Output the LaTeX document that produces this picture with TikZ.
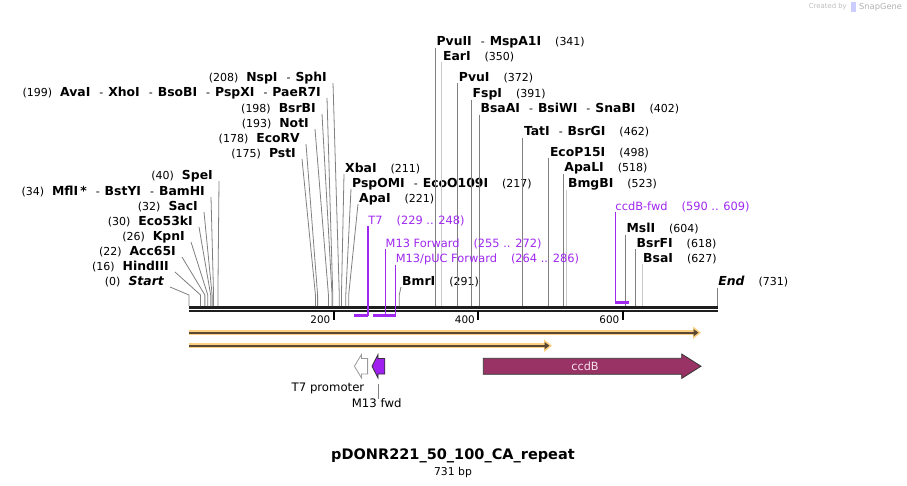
\documentclass[tikz,border=0pt]{standalone}
\usepackage{fontspec}
\setmainfont{DejaVu Sans}
\usetikzlibrary{arrows.meta,positioning}

\definecolor{cutgray}{RGB}{128,128,128}
\definecolor{cutpale}{RGB}{200,200,200}
\definecolor{primer}{RGB}{160,40,240}
\definecolor{halo}{RGB}{251,208,128}
\definecolor{repline}{RGB}{90,72,52}
\definecolor{ccdbfill}{RGB}{153,51,102}
\definecolor{ccdbtext}{RGB}{245,225,235}
\definecolor{m13fill}{RGB}{160,32,240}
\definecolor{backbone}{RGB}{30,30,30}

% bp -> x (one unit = one pixel)
\newcommand{\bp}[1]{189+0.7225*#1}
\newcommand{\enz}[1]{{\fontsize{12.4}{14}\selectfont\bfseries #1}}
\newcommand{\at}[1]{{\fontsize{11}{13}\selectfont(#1)}}
\newcommand{\andsep}{\hspace{9pt}-\hspace{5pt}}
\newcommand{\gap}{\hspace{14pt}}

\tikzset{
  lbl/.style={inner sep=0pt},
  leftlbl/.style={lbl, anchor=east},
  rightlbl/.style={lbl, anchor=west},
  cut/.style={draw=cutgray, line width=0.8pt},
  cutlight/.style={draw=cutpale, line width=0.8pt},
  primerlbl/.style={lbl, anchor=west, text=primer, font=\fontsize{11.4}{13}\selectfont},
  primerline/.style={draw=primer, line width=1.4pt},
  primerbar/.style={draw=primer, line width=2.2pt},
  rpthalo/.style={draw=halo, line width=5.5pt, -{Triangle[length=8pt,width=12pt]}},
  rptline/.style={draw=repline, line width=2pt, -{Triangle[length=5pt,width=7pt]}, shorten >=2.5pt},
  featlbl/.style={lbl, font=\fontsize{11.7}{13}\selectfont},
}

\begin{document}
\begin{tikzpicture}[x=1pt, y=-1pt, font=\fontsize{11}{13}\selectfont]
  \fill[white] (0,0) rectangle (907,485);
  \useasboundingbox (0,0) rectangle (907,485);

  % credit
  \node[lbl, anchor=east, text=black!25, font=\fontsize{6.9}{8}\selectfont] (credit) at (847,7) {Created by};
  \fill[blue!20] (851,2) rectangle (856,12);
  \node[lbl, anchor=west, text=black!30, font=\fontsize{8.3}{9}\selectfont] (snapgene) at (859,7) {SnapGene};

  % backbone
  \coordinate (bb-s) at (189,307.3);
  \coordinate (bb-e) at (717.5,307.3);
  \draw[backbone, line width=2.7pt] (bb-s) -- (bb-e);
  \draw[backbone, line width=2.2pt] ([yshift=-3.9pt]bb-s) -- ([yshift=-3.9pt]bb-e);
  \foreach \t in {200,400,600}{
    \coordinate (tick\t) at ({\bp{\t}},311);
    \draw[black, line width=2pt] (tick\t) -- ++(0,8.5);
    \node[lbl, anchor=east, font=\fontsize{10.4}{12}\selectfont] (num\t) at ({\bp{\t}-3},320) {\t};
  }

  % enzymes, left side
  \node[leftlbl] (Start)   at (164,282) {\at{0}\hspace{8pt}\enz{\itshape Start}};
  \node[leftlbl] (HindIII) at (169,267) {\at{16}\hspace{8pt}\enz{HindIII}};
  \node[leftlbl] (Acc65I)  at (176,252) {\at{22}\hspace{8pt}\enz{Acc65I}};
  \node[leftlbl] (KpnI)    at (185,237) {\at{26}\hspace{8pt}\enz{KpnI}};
  \node[leftlbl] (Eco53kI) at (193,222) {\at{30}\hspace{8pt}\enz{Eco53kI}};
  \node[leftlbl] (SacI)    at (198,207) {\at{32}\hspace{8pt}\enz{SacI}};
  \node[leftlbl] (MflI)    at (205,192) {\at{34}\hspace{8pt}\enz{MflI\,*}\andsep\enz{BstYI}\andsep\enz{BamHI}};
  \node[leftlbl] (SpeI)    at (213,176) {\at{40}\hspace{8pt}\enz{SpeI}};
  \node[leftlbl] (PstI)    at (296,154) {\at{175}\hspace{8pt}\enz{PstI}};
  \node[leftlbl] (EcoRV)   at (300,139) {\at{178}\hspace{8pt}\enz{EcoRV}};
  \node[leftlbl] (NotI)    at (309,124) {\at{193}\hspace{8pt}\enz{NotI}};
  \node[leftlbl] (BsrBI)   at (316,109) {\at{198}\hspace{8pt}\enz{BsrBI}};
  \node[leftlbl] (AvaI)    at (321,93)  {\at{199}\hspace{8pt}\enz{AvaI}\andsep\enz{XhoI}\andsep\enz{BsoBI}\andsep\enz{PspXI}\andsep\enz{PaeR7I}};
  \node[leftlbl] (NspI)    at (327,78)  {\at{208}\hspace{8pt}\enz{NspI}\andsep\enz{SphI}};
  \foreach \nm/\bpv in {Start/0,HindIII/16,Acc65I/22,KpnI/26,Eco53kI/30,SacI/32,MflI/34,SpeI/40,
                        PstI/175,EcoRV/178,NotI/193,BsrBI/198,AvaI/199,NspI/208}{
    \coordinate (\nm-k) at ({\bp{\bpv}},295);
    \coordinate (\nm-c) at ({\bp{\bpv}},306);
    \draw[cut] ([shift={(6,5)}]\nm.east) -- (\nm-k) -- (\nm-c);
  }

  % enzymes, middle
  \node[rightlbl] (XbaI)   at (345,169) {\enz{XbaI}\gap\at{211}};
  \node[rightlbl] (PspOMI) at (352,184) {\enz{PspOMI}\andsep\enz{EcoO109I}\gap\at{217}};
  \node[rightlbl] (ApaI)   at (359,199) {\enz{ApaI}\gap\at{221}};
  \node[rightlbl] (BmrI)   at (402,282) {\enz{BmrI}\gap\at{291}};
  \foreach \nm/\bpv in {XbaI/211,PspOMI/217,ApaI/221,BmrI/291}{
    \coordinate (\nm-k) at ({\bp{\bpv}},295);
    \coordinate (\nm-c) at ({\bp{\bpv}},306);
    \draw[cut] ([shift={(-1,5)}]\nm.west) -- (\nm-k) -- (\nm-c);
  }

  % enzymes, right side
  \node[rightlbl] (PvuII)   at ({\bp{341}+1},42)  {\enz{PvuII}\andsep\enz{MspA1I}\gap\at{341}};
  \node[rightlbl] (EarI)    at ({\bp{350}+1},57)  {\enz{EarI}\gap\at{350}};
  \node[rightlbl] (PvuI)    at ({\bp{372}+1},78)  {\enz{PvuI}\gap\at{372}};
  \node[rightlbl] (FspI)    at ({\bp{391}+1},94)  {\enz{FspI}\gap\at{391}};
  \node[rightlbl] (BsaAI)   at ({\bp{402}+1},109) {\enz{BsaAI}\andsep\enz{BsiWI}\andsep\enz{SnaBI}\gap\at{402}};
  \node[rightlbl] (TatI)    at ({\bp{462}+1},132) {\enz{TatI}\andsep\enz{BsrGI}\gap\at{462}};
  \node[rightlbl] (EcoP15I) at ({\bp{498}+1},153) {\enz{EcoP15I}\gap\at{498}};
  \node[rightlbl] (ApaLI)   at ({\bp{518}+1},168) {\enz{ApaLI}\gap\at{518}};
  \node[rightlbl] (BmgBI)   at ({\bp{523}+1},184) {\enz{BmgBI}\gap\at{523}};
  \node[rightlbl] (MslI)    at ({\bp{604}+1},229) {\enz{MslI}\gap\at{604}};
  \node[rightlbl] (BsrFI)   at ({\bp{618}+1},244) {\enz{BsrFI}\gap\at{618}};
  \node[rightlbl] (BsaI)    at ({\bp{627}+1},259) {\enz{BsaI}\gap\at{627}};
  \node[rightlbl] (End)     at ({\bp{731}+1},282) {\enz{\itshape End}\gap\at{731}};
  \foreach \nm/\bpv/\sty in {PvuII/341/cut,EarI/350/cutlight,PvuI/372/cut,FspI/391/cut,BsaAI/402/cut,
                             TatI/462/cut,EcoP15I/498/cut,ApaLI/518/cut,BmgBI/523/cutlight,
                             MslI/604/cut,BsrFI/618/cut,BsaI/627/cutlight,End/731/cut}{
    \coordinate (\nm-c) at ({\bp{\bpv}},306);
    \draw[\sty] (\nm-c |- \nm.south) -- (\nm-c);
  }

  % primers
  \node[primerlbl] (T7)      at ({\bp{248}},221) {T7\gap(229 .. 248)};
  \node[primerlbl] (M13F)    at ({\bp{272}},244) {M13 Forward\gap(255 .. 272)};
  \node[primerlbl] (M13pUC)  at ({\bp{286}},259) {M13/pUC Forward\gap(264 .. 286)};
  \node[primerlbl] (ccdBfwd) at ({\bp{590}},207) {ccdB-fwd\gap(590 .. 609)};
  \coordinate (T7-a) at ({\bp{229}},315.5);   \coordinate (T7-b) at ({\bp{248}},315.5);
  \coordinate (M13F-a) at ({\bp{255}},315.5); \coordinate (M13F-b) at ({\bp{272}},315.5);
  \coordinate (M13pUC-a) at ({\bp{264}},315.5); \coordinate (M13pUC-b) at ({\bp{286}},315.5);
  \coordinate (ccdBfwd-a) at ({\bp{590}},302.5); \coordinate (ccdBfwd-b) at ({\bp{609}},302.5);
  \foreach \nm in {T7,M13F,M13pUC}{
    \draw[primerbar] (\nm-a) -- (\nm-b);
    \draw[primerline] (\nm.south west) -- (\nm-b);
  }
  \draw[primerbar] (ccdBfwd-a) -- (ccdBfwd-b);
  \draw[primerline] (ccdBfwd.south west) -- (ccdBfwd-a);

  % repeat features
  \coordinate (rep1-s) at (189,332.7); \coordinate (rep1-e) at (701,332.7);
  \coordinate (rep2-s) at (189,345.7); \coordinate (rep2-e) at (552,345.7);
  \draw[rpthalo] (rep1-s) -- (rep1-e);
  \draw[rptline] (rep1-s) -- (rep1-e);
  \draw[rpthalo] (rep2-s) -- (rep2-e);
  \draw[rptline] (rep2-s) -- (rep2-e);

  % features
  \draw[draw=black!40, fill=white, line width=0.8pt]
    (354.4,366.2) -- (361.5,354.5) -- (361.5,358.5) -- (367.6,358.5) -- (367.6,374) -- (361.5,374) -- (361.5,378) -- cycle;
  \draw[draw=black!80, fill=m13fill, line width=0.8pt]
    (372,366.2) -- (378,354.5) -- (378,358.5) -- (384.8,358.5) -- (384.8,374) -- (378,374) -- (378,378) -- cycle;
  \draw[draw=black!80, fill=ccdbfill, line width=0.8pt]
    (483.3,358.3) -- (681.7,358.3) -- (681.7,354) -- (701,366.2) -- (681.7,378.4) -- (681.7,374.3) -- (483.3,374.3) -- cycle;
  \node[lbl, text=ccdbtext, font=\fontsize{11.3}{13}\selectfont] (ccdB) at (585,366) {ccdB};

  \node[featlbl, anchor=east] (T7prom) at (364.5,388) {T7 promoter};
  \node[featlbl] (M13fwd) at (376.7,403.5) {M13 fwd};
  \coordinate (M13fwd-tip) at (378.3,384);
  \draw[cut] (M13fwd-tip) -- (M13fwd-tip |- M13fwd.north);

  % title
  \node[lbl, font=\bfseries\fontsize{14.5}{16}\selectfont] (title) at (453,456) {pDONR221\_50\_100\_CA\_repeat};
  \node[lbl, font=\fontsize{10.8}{12}\selectfont, below=3.5pt of title] (size) {731 bp};
\end{tikzpicture}
\end{document}
